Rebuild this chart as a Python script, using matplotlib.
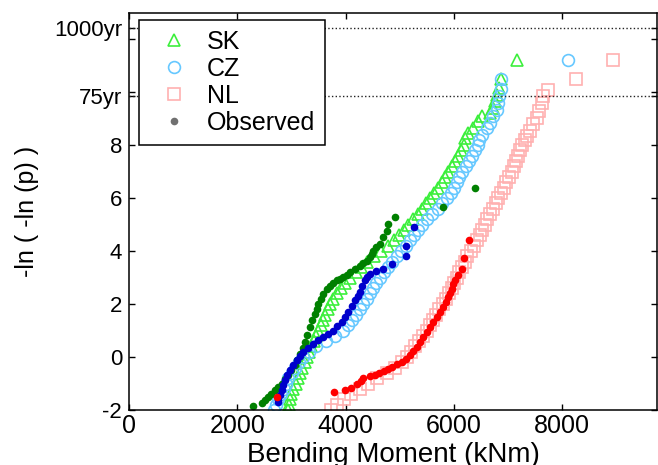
import numpy as np
import matplotlib
matplotlib.use("Agg")
import matplotlib.pyplot as plt
from matplotlib.lines import Line2D

plt.rcParams['font.family'] = ['Liberation Sans', 'DejaVu Sans']

# ---- simulated samples (Gumbel plot: bending moment vs reduced variate) ----
sk_sim_y = [-2.0, -1.8, -1.6, -1.4, -1.2, -1.0, -0.8, -0.6, -0.4, -0.2,
            0.0, 0.2, 0.4, 0.6, 0.8, 1.0, 1.2, 1.4, 1.6, 1.8,
            2.0, 2.2, 2.4, 2.6, 2.8, 3.0, 3.2, 3.4, 3.6, 3.8,
            4.0, 4.2, 4.4, 4.6, 4.8, 5.0, 5.2, 5.4, 5.6, 5.8,
            6.0, 6.2, 6.4, 6.6, 6.8, 7.0, 7.2, 7.4, 7.6, 7.8,
            8.0, 8.27, 8.46, 8.65, 8.90, 9.09, 9.21, 9.40, 9.65, 9.91,
            10.15, 10.51, 11.22]
sk_sim_x = [2940, 2960, 2980, 2999, 3037, 3079, 3120, 3162, 3203, 3244,
            3286, 3328, 3370, 3413, 3455, 3498, 3540, 3583, 3625, 3668,
            3711, 3763, 3838, 3912, 3987, 4078, 4184, 4290, 4400, 4526,
            4651, 4776, 4900, 4985, 5070, 5156, 5242, 5328, 5414, 5491,
            5566, 5641, 5708, 5772, 5836, 5899, 5960, 6021, 6078, 6131,
            6183, 6203, 6259, 6351, 6449, 6511, 6665, 6720, 6757, 6800,
            6837, 6862, 7169]

cz_sim_y = [-2.0, -1.8, -1.6, -1.4, -1.2, -1.0, -0.8, -0.6, -0.4, -0.2,
            0.0, 0.2, 0.4, 0.6, 0.8, 1.0, 1.2, 1.4, 1.6, 1.8,
            2.0, 2.2, 2.4, 2.6, 2.8, 3.0, 3.2, 3.4, 3.6, 3.8,
            4.0, 4.2, 4.4, 4.6, 4.8, 5.0, 5.2, 5.4, 5.6, 5.8,
            6.0, 6.2, 6.4, 6.6, 6.8, 7.0, 7.2, 7.4, 7.6, 7.8,
            8.0, 8.21, 8.40, 8.65, 8.84, 9.09, 9.34, 9.59, 9.84, 10.13,
            10.51, 11.22]
cz_sim_x = [2676, 2715, 2755, 2805, 2853, 2898, 2944, 3003, 3066, 3140,
            3218, 3331, 3461, 3645, 3803, 3946, 4036, 4126, 4199, 4264,
            4329, 4393, 4452, 4511, 4570, 4637, 4710, 4784, 4858, 4940,
            5024, 5108, 5191, 5265, 5339, 5412, 5495, 5600, 5704, 5786,
            5863, 5937, 5997, 6049, 6100, 6157, 6219, 6280, 6337, 6389,
            6441, 6470, 6511, 6604, 6665, 6726, 6788, 6818, 6837, 6868,
            6862, 8111]

nl_sim_y = [-2.0, -1.8, -1.6, -1.4, -1.2, -1.0, -0.8, -0.6, -0.4, -0.2,
            0.0, 0.2, 0.4, 0.6, 0.8, 1.0, 1.2, 1.4, 1.6, 1.8,
            2.0, 2.2, 2.4, 2.6, 2.8, 3.0, 3.2, 3.4, 3.6, 3.8,
            4.0, 4.2, 4.4, 4.6, 4.8, 5.0, 5.2, 5.4, 5.6, 5.8,
            6.0, 6.2, 6.4, 6.6, 6.8, 7.0, 7.2, 7.4, 7.6, 7.8,
            8.0, 8.2, 8.34, 8.53, 8.78, 9.03, 9.28, 9.59, 9.84, 10.09,
            10.51, 11.22]
nl_sim_x = [3728, 3840, 3966, 4107, 4257, 4411, 4588, 4770, 4911, 5036,
            5132, 5210, 5287, 5361, 5429, 5498, 5558, 5618, 5675, 5732,
            5794, 5856, 5908, 5958, 6007, 6052, 6097, 6147, 6199, 6250,
            6309, 6369, 6427, 6476, 6526, 6573, 6618, 6663, 6716, 6771,
            6822, 6870, 6918, 6967, 7016, 7064, 7106, 7148, 7187, 7225,
            7262, 7310, 7342, 7403, 7464, 7527, 7575, 7620, 7638, 7741,
            8253, 8942]

# ---- observed ----
sk_obs_y = [-1.85, -1.75, -1.62, -1.5, -1.38, -1.25, -1.12, -1.0, -0.84, -0.68,
            -0.5, -0.31, -0.1, 0.13, 0.35, 0.57, 0.85, 1.13, 1.38, 1.64,
            1.82, 2.01, 2.2, 2.39, 2.55, 2.7, 2.8, 2.89, 2.95, 3.01,
            3.1, 3.2, 3.32, 3.45, 3.55, 3.64, 3.76, 3.88, 4.01, 4.14,
            4.27, 4.52, 4.77, 5.02, 5.27, 5.67, 6.39]
sk_obs_x = [2283, 2449, 2510, 2566, 2630, 2695, 2758, 2818, 2880, 2941,
            3000, 3064, 3110, 3157, 3205, 3249, 3295, 3341, 3388, 3434,
            3465, 3495, 3540, 3587, 3650, 3711, 3770, 3834, 3895, 3957,
            4018, 4080, 4170, 4265, 4330, 4389, 4449, 4480, 4511, 4570,
            4634, 4696, 4758, 4788, 4911, 5803, 6389]

cz_obs_y = [-1.7, -1.62, -1.45, -1.25, -1.06, -0.87, -0.68, -0.5, -0.3, -0.12,
            0.04, 0.19, 0.35, 0.51, 0.64, 0.76, 0.88, 1.0, 1.16, 1.32,
            1.5, 1.7, 1.92, 2.14, 2.3, 2.45, 2.67, 2.89, 3.02, 3.14,
            3.24, 3.33, 3.51, 3.83, 4.2, 4.92]
cz_obs_x = [2750, 2757, 2785, 2818, 2850, 2880, 2925, 2972, 3030, 3095,
            3155, 3218, 3310, 3403, 3495, 3587, 3680, 3772, 3850, 3926,
            3990, 4049, 4110, 4172, 4220, 4265, 4310, 4357, 4400, 4449,
            4570, 4696, 4850, 5115, 5115, 5262]

nl_obs_y = [-1.5, -1.33, -1.25, -1.16, -1.0, -0.9, -0.81, -0.72, -0.66, -0.6,
            -0.52, -0.45, -0.37, -0.28, -0.18, -0.06, 0.07, 0.22, 0.38, 0.57,
            0.76, 0.95, 1.13, 1.32, 1.51, 1.7, 1.88, 2.07, 2.26, 2.42,
            2.58, 2.74, 2.89, 3.08, 3.33, 3.74, 4.42]
nl_obs_x = [2726, 3785, 3988, 4095, 4204, 4280, 4326, 4450, 4540, 4620,
            4700, 4780, 4850, 4940, 5035, 5110, 5188, 5250, 5311, 5372,
            5434, 5496, 5558, 5620, 5681, 5742, 5803, 5850, 5896, 5927,
            5958, 5990, 6020, 6080, 6143, 6186, 6284]

# return period levels on the reduced variate axis
rp_labels = ['75yr', '1000yr']
rp_values = [9.85, 12.43]

fig = plt.figure(figsize=(6.58, 4.65), dpi=100)
ax = fig.add_axes([129 / 658, 1 - 410 / 465, 528 / 658, 397.3 / 465])

ax.plot(sk_sim_x, sk_sim_y, ls='none', marker='^', ms=9, mfc='none',
        mec='#3cef3c', mew=1.2, label='SK')
ax.plot(cz_sim_x, cz_sim_y, ls='none', marker='o', ms=8.5, mfc='none',
        mec='#66c8ff', mew=1.2, label='CZ')
ax.plot(nl_sim_x, nl_sim_y, ls='none', marker='s', ms=8.5, mfc='none',
        mec='#ffb0b0', mew=1.2, label='NL')

ax.plot(sk_obs_x, sk_obs_y, ls='none', marker='o', ms=5.5, color='#008000', mew=0)
ax.plot(cz_obs_x, cz_obs_y, ls='none', marker='o', ms=5.5, color='#0000cc', mew=0)
ax.plot(nl_obs_x, nl_obs_y, ls='none', marker='o', ms=5.5, color='#ff0000', mew=0)

for v in rp_values:
    ax.axhline(v, color='#222222', ls=':', lw=1.0)

ax.set_xlim(0, 9750)
ax.set_ylim(-2, 13)

ax.set_xticks([0, 2000, 4000, 6000, 8000])
ax.set_yticks([-2, 0, 2, 4, 6, 8, 10, 12] + rp_values)
ax.set_yticklabels(['-2', '0', '2', '4', '6', '8', '', ''] + rp_labels)
ax.tick_params(direction='in', top=True, right=True, length=4, width=1)
ax.tick_params(axis='x', labelsize=18, pad=3)
ax.tick_params(axis='y', labelsize=16, pad=5)
for s in ax.spines.values():
    s.set_linewidth(1.1)

ax.set_xlabel('Bending Moment (kNm)', fontsize=20)
ax.xaxis.set_label_coords(0.5, -0.08)
ax.set_ylabel('-ln ( -ln (p) )', fontsize=18)
ax.yaxis.set_label_coords(-0.17, 0.5)

handles, labels = ax.get_legend_handles_labels()
handles.append(Line2D([], [], ls='none', marker='o', ms=5.5, color='#707070', mew=0))
labels.append('Observed')
leg = ax.legend(handles, labels, loc='upper left', bbox_to_anchor=(0.019, 0.982),
                borderaxespad=0, fontsize=18, frameon=True, fancybox=False,
                edgecolor='k', framealpha=1, handletextpad=0.3, labelspacing=0.12,
                borderpad=0.4)
leg.get_frame().set_linewidth(1.1)

fig.savefig('out.png', dpi=100)
